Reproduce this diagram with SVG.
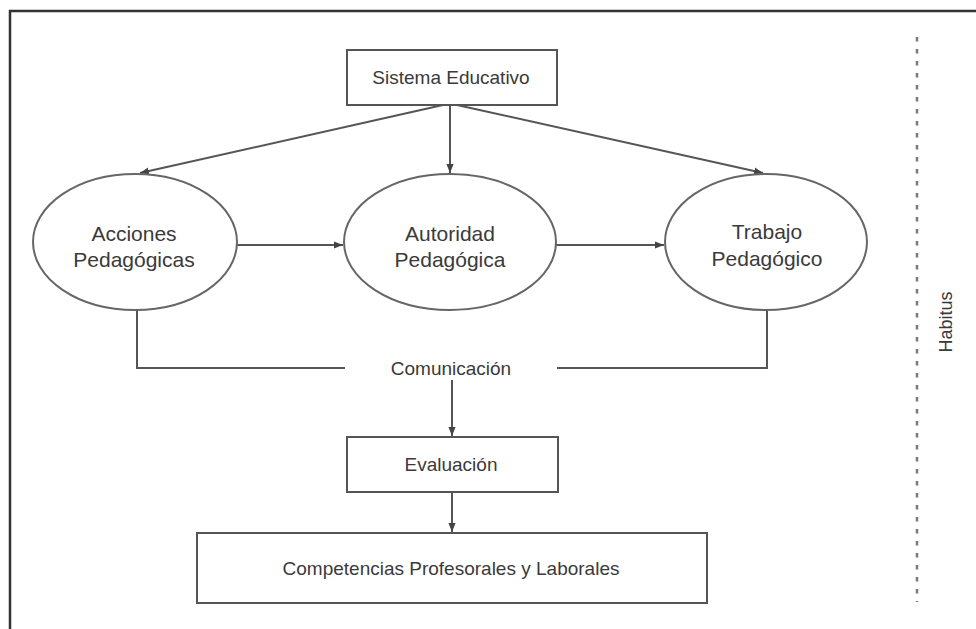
<svg xmlns="http://www.w3.org/2000/svg" width="976" height="629" viewBox="0 0 976 629">
<style>
.box{fill:#fff;stroke:#555;stroke-width:2}
.ell{fill:#fff;stroke:#666;stroke-width:2}
.t{font-family:"Liberation Sans",Arial,sans-serif;font-size:19px;fill:#3a3a3a;text-anchor:middle}
.tl{font-size:21px}
.c{fill:none;stroke:#555;stroke-width:2}
</style>
<defs>
<marker id="ah" viewBox="0 0 10 10" refX="10" refY="5" markerWidth="9" markerHeight="9" markerUnits="userSpaceOnUse" orient="auto">
<path d="M0,1 L10,5 L0,9 z" fill="#444"/>
</marker>
</defs>
<rect width="976" height="629" fill="#fff"/>
<g id="frame">
<path d="M10,629 V11 H976" fill="none" stroke="#333" stroke-width="2.5"/>
<line x1="917" y1="37" x2="917" y2="602" stroke="#7a7a7a" stroke-width="2.5" stroke-dasharray="4.5 7.5"/>
</g>
<g id="connectors">
<line class="c" x1="443" y1="105" x2="140" y2="173" marker-end="url(#ah)"/>
<line class="c" x1="450" y1="105" x2="450" y2="173" marker-end="url(#ah)"/>
<line class="c" x1="457" y1="105" x2="763" y2="173" marker-end="url(#ah)"/>
<line class="c" x1="237" y1="245" x2="343" y2="245" marker-end="url(#ah)"/>
<line class="c" x1="556" y1="245" x2="664" y2="245" marker-end="url(#ah)"/>
<polyline class="c" points="137,310 137,368 345,368"/>
<polyline class="c" points="767,310 767,368 557,368"/>
<line class="c" x1="452" y1="380" x2="452" y2="436" marker-end="url(#ah)"/>
<line class="c" x1="452" y1="492" x2="452" y2="532" marker-end="url(#ah)"/>
</g>
<g id="sistema">
<rect class="box" x="347" y="50" width="210" height="55"/>
<text class="t" x="451" y="84">Sistema Educativo</text>
</g>
<g id="acciones">
<ellipse class="ell" cx="135" cy="242" rx="102" ry="68"/>
<text class="t tl" x="134" y="241">Acciones</text>
<text class="t tl" x="134" y="267">Pedagógicas</text>
</g>
<g id="autoridad">
<ellipse class="ell" cx="450" cy="242" rx="106" ry="68"/>
<text class="t tl" x="450" y="241">Autoridad</text>
<text class="t tl" x="450" y="267">Pedagógica</text>
</g>
<g id="trabajo">
<ellipse class="ell" cx="766" cy="242" rx="101" ry="68"/>
<text class="t tl" x="767" y="239">Trabajo</text>
<text class="t tl" x="767" y="266">Pedagógico</text>
</g>
<g id="comunicacion">
<text class="t" x="451" y="375">Comunicación</text>
</g>
<g id="evaluacion">
<rect class="box" x="347" y="437" width="211" height="55"/>
<text class="t" x="451" y="471">Evaluación</text>
</g>
<g id="competencias">
<rect class="box" x="197" y="533" width="510" height="70"/>
<text class="t" x="451" y="575">Competencias Profesorales y Laborales</text>
</g>
<g id="habitus">
<text class="t" x="0" y="0" font-size="18" transform="translate(952,322) rotate(-90)" style="font-size:18px">Habitus</text>
</g>
</svg>
